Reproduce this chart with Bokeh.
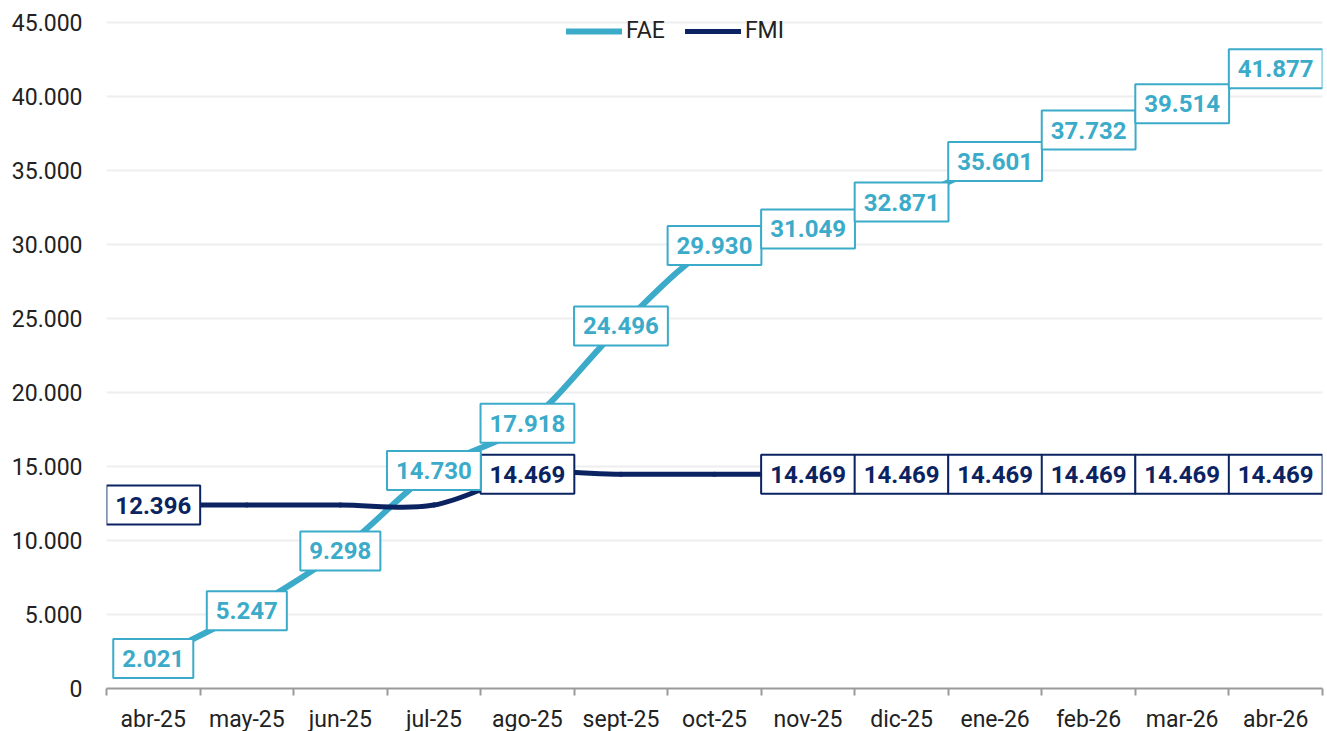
import numpy as np
from bokeh.plotting import figure
from bokeh.models import Range1d, FixedTicker, ColumnDataSource
from bokeh.core.properties import value
from bokeh.embed import file_html
from bokeh.resources import INLINE

months = ["abr-25", "may-25", "jun-25", "jul-25", "ago-25", "sept-25", "oct-25",
          "nov-25", "dic-25", "ene-26", "feb-26", "mar-26", "abr-26"]
fae = [2021, 5247, 9298, 14730, 17918, 24496, 29930, 31049, 32871, 35601, 37732, 39514, 41877]
fmi = [12396, 12396, 12396, 12396, 14469, 14469, 14469, 14469, 14469, 14469, 14469, 14469, 14469]
fmi_label_idx = [0, 4, 7, 8, 9, 10, 11, 12]
y_ticks = list(range(0, 45001, 5000))

FAE_C = "#3BABC9"
FMI_C = "#0B2361"
FONT = "Roboto"


def fmt(v):
    return f"{v:,}".replace(",", ".")


def bezier_source(vals):
    # Catmull-Rom style smoothing (like spreadsheet "smoothed line")
    y = np.asarray(vals, dtype=float)
    x = np.arange(len(y), dtype=float)
    n = len(y)
    xp = np.concatenate([[x[0]], x, [x[-1]]])
    yp = np.concatenate([[y[0]], y, [y[-1]]])
    x0, y0, x1, y1 = x[:-1], y[:-1], x[1:], y[1:]
    cx0 = x0 + (xp[2:n + 1] - xp[0:n - 1]) / 6.0
    cy0 = y0 + (yp[2:n + 1] - yp[0:n - 1]) / 6.0
    cx1 = x1 - (xp[3:n + 2] - xp[1:n]) / 6.0
    cy1 = y1 - (yp[3:n + 2] - yp[1:n]) / 6.0
    return ColumnDataSource(dict(x0=x0, y0=y0, x1=x1, y1=y1,
                                 cx0=cx0, cy0=cy0, cx1=cx1, cy1=cy1))


# frame extends 10px above the 45.000 gridline so the legend sits inside it
FRAME_H = 676
Y_TOP = 45000 * FRAME_H / 666.0

p = figure(frame_width=1216, frame_height=FRAME_H, min_border_left=106, min_border_top=12,
           min_border_right=4, min_border_bottom=0,
           x_range=Range1d(-0.5, 12.5), y_range=Range1d(0, Y_TOP),
           output_backend="svg", toolbar_location=None, background_fill_color="white",
           border_fill_color="white")
p.outline_line_color = None

# axes
xa = p.xaxis[0]
xa.ticker = FixedTicker(ticks=list(range(len(months))),
                        minor_ticks=[i - 0.5 for i in range(len(months) + 1)])
xa.major_label_overrides = {i: m for i, m in enumerate(months)}
xa.major_tick_line_color = None
xa.minor_tick_line_color = "#9a9a9a"
xa.minor_tick_line_width = 2
xa.minor_tick_in = 0
xa.minor_tick_out = 7
xa.axis_line_color = "#9a9a9a"
xa.axis_line_width = 2
xa.major_label_text_font = FONT
xa.major_label_text_font_size = "23px"
xa.major_label_text_color = "#222222"
xa.major_label_standoff = 10

ya = p.yaxis[0]
ya.ticker = FixedTicker(ticks=y_ticks)
ya.major_label_overrides = {t: fmt(t) for t in y_ticks}
ya.axis_line_color = None
ya.major_tick_line_color = None
ya.minor_tick_line_color = None
ya.major_label_text_font = FONT
ya.major_label_text_font_size = "23px"
ya.major_label_text_color = "#222222"
ya.major_label_standoff = 18

p.xgrid.grid_line_color = None
p.ygrid.grid_line_color = "#eeeeee"
p.ygrid.grid_line_width = 2

# lines
p.bezier(x0="x0", y0="y0", x1="x1", y1="y1", cx0="cx0", cy0="cy0", cx1="cx1", cy1="cy1",
         source=bezier_source(fae), line_color=FAE_C, line_width=6, line_cap="round",
         legend_label="FAE")
p.bezier(x0="x0", y0="y0", x1="x1", y1="y1", cx0="cx0", cy0="cy0", cx1="cx1", cy1="cy1",
         source=bezier_source(fmi), line_color=FMI_C, line_width=5, line_cap="round",
         legend_label="FMI")

# data labels
fae_src = ColumnDataSource(dict(x=list(range(len(fae))), y=fae, t=[fmt(v) for v in fae]))
fmi_src = ColumnDataSource(dict(x=fmi_label_idx, y=[fmi[i] for i in fmi_label_idx],
                                t=[fmt(fmi[i]) for i in fmi_label_idx]))
for src, col in ((fmi_src, FMI_C), (fae_src, FAE_C)):
    p.text(x="x", y="y", text="t", source=src, text_align="center", text_baseline="middle",
           text_font=value(FONT), text_font_style="bold", text_font_size="24px",
           text_color=col, background_fill_color="white", border_line_color=col,
           border_line_width=2,
           padding=dict(left=9, right=9, top=11, bottom=11))

leg = p.legend[0]
leg.location = (460, 644)
leg.orientation = "horizontal"
leg.border_line_color = None
leg.background_fill_alpha = 0
leg.glyph_width = 56
leg.glyph_height = 20
leg.label_standoff = 4
leg.spacing = 20
leg.margin = 0
leg.padding = 0
leg.label_text_font = FONT
leg.label_text_font_size = "23px"
leg.label_text_color = "#222222"

open("out.html", "w").write(file_html(p, INLINE))
